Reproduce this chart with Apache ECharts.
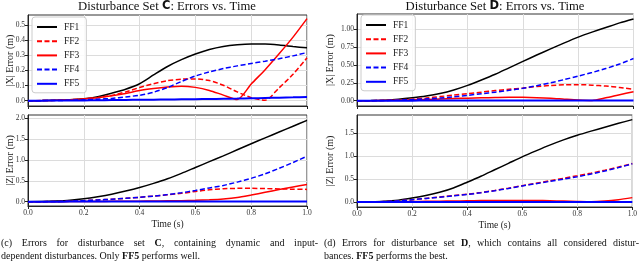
<!DOCTYPE html>
<html><head><meta charset="utf-8">
<script src="https://cdn.jsdelivr.net/npm/echarts@6/dist/echarts.min.js"></script>
<style>html,body{margin:0;padding:0;background:#fff}#c{width:640px;height:267px}</style>
</head><body><div id="c"></div>
<script>
// ---- data ----
const time = [0,0.05,0.1,0.15,0.2,0.25,0.3,0.35,0.4,0.45,0.5,0.55,0.6,0.65,0.7,0.75,0.8,0.85,0.9,0.95,1.0];
const seriesNames = ['FF1','FF2','FF3','FF4','FF5'];
// Disturbance set C, |X| error
const cX_FF1 = [0,0.001,0.003,0.006,0.013,0.027,0.05,0.076,0.112,0.17,0.226,0.271,0.308,0.338,0.358,0.369,0.374,0.374,0.368,0.358,0.349];
const cX_FF2 = [0,0.001,0.003,0.006,0.012,0.021,0.035,0.058,0.087,0.112,0.132,0.142,0.144,0.133,0.102,0.058,0.02,0.003,0.085,0.175,0.283];
const cX_FF3 = [0,0.001,0.003,0.006,0.012,0.02,0.032,0.048,0.067,0.08,0.09,0.096,0.088,0.068,0.037,0.008,0.11,0.205,0.31,0.42,0.542];
const cX_FF4 = [0,0.0005,0.001,0.003,0.006,0.01,0.015,0.025,0.036,0.056,0.087,0.127,0.163,0.19,0.212,0.23,0.246,0.261,0.277,0.296,0.318];
const cX_FF5 = [0,0,0.001,0.001,0.002,0.003,0.004,0.005,0.006,0.007,0.008,0.009,0.01,0.011,0.013,0.014,0.016,0.018,0.02,0.022,0.025];
// Disturbance set D, |X| error
const dX_FF1 = [0,0.002,0.008,0.02,0.04,0.065,0.1,0.15,0.215,0.29,0.37,0.46,0.55,0.64,0.725,0.81,0.89,0.96,1.025,1.09,1.145];
const dX_FF2 = [0,0.001,0.005,0.012,0.022,0.038,0.058,0.078,0.098,0.12,0.142,0.16,0.177,0.198,0.213,0.222,0.225,0.218,0.205,0.185,0.16];
const dX_FF3 = [0,0.001,0.004,0.008,0.013,0.018,0.024,0.03,0.036,0.041,0.045,0.048,0.047,0.043,0.035,0.022,0.01,0.004,0.04,0.085,0.126];
const dX_FF4 = [0,0.001,0.004,0.009,0.016,0.026,0.038,0.055,0.075,0.097,0.12,0.145,0.174,0.21,0.25,0.296,0.345,0.395,0.45,0.515,0.59];
const dX_FF5 = [0,0,0.001,0.001,0.001,0.002,0.002,0.002,0.002,0.003,0.003,0.003,0.003,0.003,0.003,0.003,0.003,0.003,0.003,0.003,0.003];
// Disturbance set C, |Z| error
const cZ_FF1 = [0,0.003,0.015,0.035,0.07,0.12,0.18,0.255,0.34,0.44,0.55,0.68,0.82,0.96,1.1,1.245,1.39,1.53,1.67,1.81,1.95];
const cZ_FF2 = [0,0.001,0.005,0.012,0.025,0.042,0.06,0.08,0.105,0.135,0.165,0.2,0.245,0.285,0.31,0.32,0.32,0.315,0.305,0.3,0.295];
const cZ_FF3 = [0,0,0.001,0.002,0.004,0.006,0.008,0.01,0.013,0.016,0.02,0.025,0.032,0.045,0.065,0.1,0.16,0.225,0.29,0.355,0.415];
const cZ_FF4 = [0,0.001,0.005,0.012,0.025,0.042,0.06,0.08,0.105,0.135,0.17,0.215,0.27,0.33,0.39,0.47,0.56,0.67,0.8,0.94,1.09];
const cZ_FF5 = [0,0.001,0.001,0.002,0.002,0.002,0.003,0.003,0.003,0.003,0.003,0.003,0.003,0.003,0.004,0.004,0.004,0.004,0.004,0.004,0.004];
// Disturbance set D, |Z| error
const dZ_FF1 = [0,0.004,0.015,0.04,0.085,0.14,0.21,0.305,0.43,0.56,0.7,0.84,0.98,1.11,1.235,1.35,1.45,1.54,1.625,1.71,1.79];
const dZ_FF2 = [0,0.002,0.01,0.025,0.05,0.078,0.108,0.137,0.168,0.205,0.25,0.3,0.355,0.408,0.46,0.515,0.57,0.627,0.69,0.76,0.835];
const dZ_FF3 = [0,0.001,0.003,0.006,0.01,0.014,0.018,0.022,0.026,0.03,0.033,0.035,0.035,0.033,0.028,0.02,0.012,0.006,0.02,0.05,0.095];
const dZ_FF4 = [0,0.002,0.01,0.025,0.05,0.076,0.105,0.133,0.163,0.2,0.245,0.295,0.348,0.398,0.448,0.498,0.55,0.608,0.673,0.748,0.83];
const dZ_FF5 = [0,0,0.001,0.001,0.001,0.001,0.001,0.001,0.002,0.002,0.002,0.002,0.002,0.002,0.002,0.002,0.002,0.002,0.002,0.002,0.002];
// tick labels
const ticksT  = [0,0.2,0.4,0.6,0.8,1.0];
const ticksCX = [0,0.1,0.2,0.3,0.4,0.5];
const ticksDX = [0,0.25,0.5,0.75,1.0];
const ticksCZ = [0,0.5,1.0,1.5,2.0];
const ticksDZ = [0,0.5,1.0,1.5];
const titleLeft = ['Disturbance Set ', 'C', ': Errors vs. Time'];
const titleRight = ['Disturbance Set ', 'D', ': Errors vs. Time'];
const captionLeft = ['(c) Errors for disturbance set **C**, containing dynamic and input-', 'dependent disturbances. Only **FF5** performs well.'];
const captionRight = ['(d) Errors for disturbance set **D**, which contains all considered distur-', 'bances. **FF5** performs the best.'];

// ---- styles ----
const SERIF = '"Liberation Serif", "Times New Roman", serif';
const styles = [
  {color:'#000000', type:'solid', width:1.5},
  {color:'#ff0000', type:[5,2.5], width:1.5},
  {color:'#ff0000', type:'solid', width:1.5},
  {color:'#0000ff', type:[5,2.5], width:1.5},
  {color:'#0000ff', type:'solid', width:2}
];
const panels = [
  {data:[cX_FF1,cX_FF2,cX_FF3,cX_FF4,cX_FF5], ticks:ticksCX, min:-0.035, max:0.566, dec:1, name:'|X| Error (m)', grid:{left:28, width:279, top:15, height:91}, gap:13},
  {data:[dX_FF1,dX_FF2,dX_FF3,dX_FF4,dX_FF5], ticks:ticksDX, min:-0.074, max:1.214, dec:2, name:'|X| Error (m)', grid:{left:357, width:276.5, top:14, height:92}, gap:22},
  {data:[cZ_FF1,cZ_FF2,cZ_FF3,cZ_FF4,cZ_FF5], ticks:ticksCZ, min:-0.103, max:2.079, dec:1, name:'|Z| Error (m)', grid:{left:28, width:279, top:115, height:91}, gap:13},
  {data:[dZ_FF1,dZ_FF2,dZ_FF3,dZ_FF4,dZ_FF5], ticks:ticksDZ, min:-0.109, max:1.891, dec:1, name:'|Z| Error (m)', grid:{left:357, width:276.5, top:115, height:92}, gap:22}
];

const grids = [], xAxes = [], yAxes = [], series = [];
panels.forEach((p, gi) => {
  grids.push(Object.assign({show:true, borderColor:'#333', borderWidth:1, backgroundColor:'transparent'}, p.grid));
  const bottom = gi >= 2;
  xAxes.push({
    gridIndex:gi, type:'value', min:0, max:1, interval:0.2,
    axisLine:{show:true, onZero:false, lineStyle:{color:'#222', width:1.2}},
    axisTick:{show:true, length:3, lineStyle:{color:'#222'}},
    axisLabel:{show:bottom, fontFamily:SERIF, fontSize:7.5, color:'#333', margin:3, formatter:v=>v.toFixed(1)},
    splitLine:{show:true, lineStyle:{color:'#dcdcdc', width:1}},
    name: bottom ? 'Time (s)' : '', nameLocation:'middle', nameGap:13, nameMoveOverlap:false,
    nameTextStyle:{fontFamily:SERIF, fontSize:9.5, color:'#222'}
  });
  yAxes.push({
    gridIndex:gi, type:'value', min:p.min, max:p.max,
    axisLine:{show:true, lineStyle:{color:'#222', width:1}},
    axisTick:{show:true, length:3, customValues:p.ticks, lineStyle:{color:'#222'}},
    axisLabel:{fontFamily:SERIF, fontSize:7.5, color:'#333', margin:3, customValues:p.ticks, formatter:v=>v.toFixed(p.dec)},
    splitLine:{show:true, lineStyle:{color:'#dcdcdc', width:1}},
    name:p.name, nameLocation:'middle', nameGap:p.gap, nameRotate:90, nameMoveOverlap:false,
    nameTextStyle:{fontFamily:SERIF, fontSize:10, color:'#222'}
  });
  p.data.forEach((vals, si) => {
    series.push({
      name:seriesNames[si], type:'line', xAxisIndex:gi, yAxisIndex:gi,
      data: time.map((t, k) => [t, vals[k]]),
      showSymbol:false, symbol:'none', smooth:0.25, animation:false,
      lineStyle:styles[si], itemStyle:{color:styles[si].color},
      emphasis:{disabled:true}
    });
  });
});

function legendAt(left, top) {
  return {
    data:seriesNames, orient:'vertical', left, top,
    itemWidth:20, itemHeight:10, itemGap:4.2,
    padding:[5,7,4,4], backgroundColor:'rgba(255,255,255,0.85)',
    borderColor:'#cccccc', borderWidth:1, borderRadius:3,
    itemStyle:{opacity:0},
    textStyle:{fontFamily:SERIF, fontSize:9.5, color:'#222', padding:[0,0,0,2]},
    selectedMode:false
  };
}

function titleAt(parts, cx) {
  return {
    text:'{a|' + parts[0] + '}{b|' + parts[1] + '}{a|' + parts[2] + '}',
    left:cx, top:0, textAlign:'center', padding:0,
    textStyle:{fontWeight:'normal', rich:{
      a:{fontFamily:SERIF, fontWeight:'normal', fontSize:12.7, color:'#111'},
      b:{fontFamily:'"DejaVu Sans", sans-serif', fontWeight:'bold', fontSize:11.5, color:'#111'}
    }}
  };
}

// ---- caption text (justified like the source) ----
const cv = document.createElement('canvas').getContext('2d');
const CAP = 10;
function measure(txt, bold) { cv.font = (bold ? 'bold ' : '') + CAP + 'px "Liberation Serif"'; return cv.measureText(txt).width; }
function parseWord(w) {
  return w.split(/(\*\*[^*]+\*\*)/).filter(s => s.length).map(s => s.startsWith('**') ? [s.slice(2, -2), true] : [s, false]);
}
function lineEls(str, x0, x1, y, justify) {
  const words = str.split(' ').map(parseWord);
  const widths = words.map(w => w.reduce((s, seg) => s + measure(seg[0], seg[1]), 0));
  const total = widths.reduce((a, b) => a + b, 0);
  const space = justify ? (x1 - x0 - total) / (words.length - 1) : measure(' ', false);
  let x = x0; const els = [];
  words.forEach((w, i) => {
    let xx = x;
    w.forEach(seg => {
      els.push({type:'text', x:xx, y, silent:true, style:{text:seg[0], fontFamily:'"Liberation Serif"', fontWeight:seg[1] ? 'bold' : 'normal', fontSize:CAP, fill:'#111', align:'left', verticalAlign:'middle'}});
      xx += measure(seg[0], seg[1]);
    });
    x += widths[i] + space;
  });
  return els;
}
const graphics = [].concat(
  lineEls(captionLeft[0], 1, 318, 243, true),
  lineEls(captionLeft[1], 1, 318, 256, false),
  lineEls(captionRight[0], 324, 639, 243, true),
  lineEls(captionRight[1], 324, 639, 256, false)
);

const chart = echarts.init(document.getElementById('c'), null, {renderer:'canvas'});
chart.setOption({
  animation:false,
  backgroundColor:'#ffffff',
  title:[titleAt(titleLeft, 167), titleAt(titleRight, 495)],
  legend:[legendAt(32, 17), legendAt(361, 15)],
  grid:grids, xAxis:xAxes, yAxis:yAxes, series:series,
  graphic:graphics
});
</script></body></html>
